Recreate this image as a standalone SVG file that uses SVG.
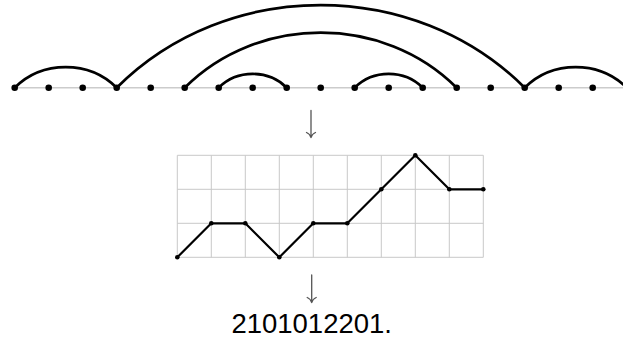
<svg xmlns="http://www.w3.org/2000/svg" width="623" height="341" viewBox="0 0 623 341">
<style>
.base{stroke:#cccccc;stroke-width:1.5;fill:none}
.arc{stroke:#000;stroke-width:2.7;fill:none}
.grid{stroke:#c8c8c8;stroke-width:1;fill:none}
.path{stroke:#000;stroke-width:2.2;fill:none;stroke-linejoin:round}
.dot{fill:#000}
.conn{stroke:#555;stroke-width:1.3;fill:none;stroke-linecap:round;stroke-linejoin:round}
.word{font-family:"Liberation Sans",Arial,sans-serif;font-size:27.5px;fill:#000}
</style>
<g id="baseline">
<line class="base" x1="14.7" y1="87.7" x2="623" y2="87.7"/>
</g>
<g id="arcs">
<path class="arc" d="M14.7,87.7 C42.2,60.2 89.2,60.2 116.7,87.7"/>
<path class="arc" d="M116.7,87.7 C226.9,-22.5 414.5,-22.5 524.7,87.7"/>
<path class="arc" d="M184.7,87.7 C258.1,14.3 383.3,14.3 456.7,87.7"/>
<path class="arc" d="M218.7,87.7 C237.1,69.3 268.3,69.3 286.7,87.7"/>
<path class="arc" d="M354.7,87.7 C373.1,69.3 404.3,69.3 422.7,87.7"/>
<path class="arc" d="M524.7,87.7 C552.2,60.2 599.2,60.2 626.7,87.7"/>
</g>
<g id="points">
<circle class="dot" cx="14.7" cy="87.7" r="3.3"/>
<circle class="dot" cx="48.7" cy="87.7" r="3.3"/>
<circle class="dot" cx="82.7" cy="87.7" r="3.3"/>
<circle class="dot" cx="116.7" cy="87.7" r="3.3"/>
<circle class="dot" cx="150.7" cy="87.7" r="3.3"/>
<circle class="dot" cx="184.7" cy="87.7" r="3.3"/>
<circle class="dot" cx="218.7" cy="87.7" r="3.3"/>
<circle class="dot" cx="252.7" cy="87.7" r="3.3"/>
<circle class="dot" cx="286.7" cy="87.7" r="3.3"/>
<circle class="dot" cx="320.7" cy="87.7" r="3.3"/>
<circle class="dot" cx="354.7" cy="87.7" r="3.3"/>
<circle class="dot" cx="388.7" cy="87.7" r="3.3"/>
<circle class="dot" cx="422.7" cy="87.7" r="3.3"/>
<circle class="dot" cx="456.7" cy="87.7" r="3.3"/>
<circle class="dot" cx="490.7" cy="87.7" r="3.3"/>
<circle class="dot" cx="524.7" cy="87.7" r="3.3"/>
<circle class="dot" cx="558.7" cy="87.7" r="3.3"/>
<circle class="dot" cx="592.7" cy="87.7" r="3.3"/>
</g>
<g id="connectors">
<path class="conn" d="M311,110.5V137.5M306.5,132.5Q310,134 311,137.5Q312,134 315.5,132.5"/>
<path class="conn" d="M311.7,275V302.5M307.2,297.5Q310.7,299 311.7,302.5Q312.7,299 316.2,297.5"/>
</g>
<g id="grid">
<path class="grid" d="M177.3,155.3H483.3M177.3,189.3H483.3M177.3,223.3H483.3M177.3,257.3H483.3M177.3,155.3V257.3M211.3,155.3V257.3M245.3,155.3V257.3M279.3,155.3V257.3M313.3,155.3V257.3M347.3,155.3V257.3M381.3,155.3V257.3M415.3,155.3V257.3M449.3,155.3V257.3M483.3,155.3V257.3"/>
</g>
<g id="lattice-path">
<polyline class="path" points="177.3,257.3 211.3,223.3 245.3,223.3 279.3,257.3 313.3,223.3 347.3,223.3 381.3,189.3 415.3,155.3 449.3,189.3 483.3,189.3"/>
<circle class="dot" cx="177.3" cy="257.3" r="2.3"/>
<circle class="dot" cx="211.3" cy="223.3" r="2.3"/>
<circle class="dot" cx="245.3" cy="223.3" r="2.3"/>
<circle class="dot" cx="279.3" cy="257.3" r="2.3"/>
<circle class="dot" cx="313.3" cy="223.3" r="2.3"/>
<circle class="dot" cx="347.3" cy="223.3" r="2.3"/>
<circle class="dot" cx="381.3" cy="189.3" r="2.3"/>
<circle class="dot" cx="415.3" cy="155.3" r="2.3"/>
<circle class="dot" cx="449.3" cy="189.3" r="2.3"/>
<circle class="dot" cx="483.3" cy="189.3" r="2.3"/>
</g>
<g id="word"><text class="word" x="311.7" y="333" text-anchor="middle">2101012201.</text></g>
</svg>
